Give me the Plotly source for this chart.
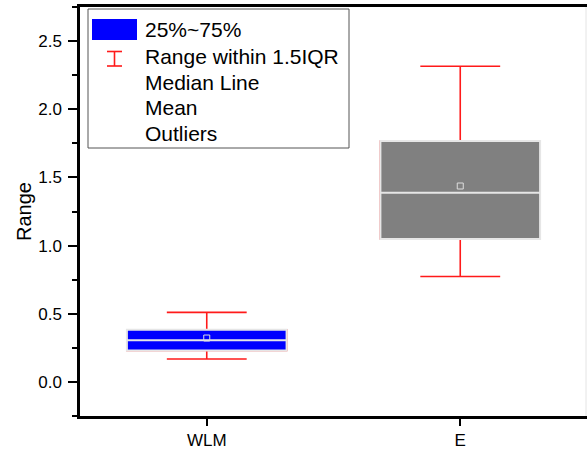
import plotly.graph_objects as go

categories = ["WLM", "E"]
lower_whisker = [0.168, 0.773]
q1_values = [0.231, 1.049]
median_values = [0.305, 1.388]
q3_values = [0.383, 1.767]
upper_whisker = [0.510, 2.315]
mean_values = [0.322, 1.437]
fill_colors = ["#0000FF", "#808080"]
y_tick_values = [0.0, 0.5, 1.0, 1.5, 2.0, 2.5]
legend_labels = ["25%~75%", "Range within 1.5IQR", "Median Line", "Mean", "Outliers"]

FONT = "Liberation Sans, Arial, sans-serif"
BOX_W = 0.63

fig = go.Figure()

for i, cat in enumerate(categories):
    # whiskers (red)
    fig.add_trace(go.Box(
        x=[cat], q1=[q1_values[i]], median=[median_values[i]], q3=[q3_values[i]],
        lowerfence=[lower_whisker[i]], upperfence=[upper_whisker[i]],
        width=BOX_W, whiskerwidth=0.5, fillcolor="rgba(0,0,0,0)",
        line=dict(color="#FF1A1A", width=1.6), boxpoints=False,
        showlegend=False, hoverinfo="skip"))
    # box (filled) with white median
    fig.add_trace(go.Box(
        x=[cat], q1=[q1_values[i]], median=[median_values[i]], q3=[q3_values[i]],
        lowerfence=[q1_values[i]], upperfence=[q3_values[i]],
        width=BOX_W, whiskerwidth=0, fillcolor=fill_colors[i],
        line=dict(color="#E6E6E6", width=2), boxpoints=False,
        showlegend=False, hoverinfo="skip"))

fig.add_trace(go.Scatter(
    x=categories, y=mean_values, mode="markers",
    marker=dict(symbol="square-open", size=6, color="#DDDDDD", line=dict(width=1)),
    showlegend=False, hoverinfo="skip"))

# plot area pixel geometry for manual legend
L, R, T, B = 80, 587, 7, 416
def px(x):
    return (x - L) / (R - L)
def py(y):
    return (B - y) / (B - T)

shapes = [
    dict(type="rect", xref="paper", yref="paper", x0=px(88), x1=px(349), y0=py(148), y1=py(9),
         line=dict(color="#555555", width=1), fillcolor="white", layer="above"),
    dict(type="rect", xref="paper", yref="paper", x0=px(92), x1=px(137), y0=py(40), y1=py(19),
         line=dict(width=0), fillcolor="#0000FF", layer="above"),
    dict(type="line", xref="paper", yref="paper", x0=px(114.5), x1=px(114.5), y0=py(66), y1=py(51.5),
         line=dict(color="#FF1A1A", width=1.6), layer="above"),
    dict(type="line", xref="paper", yref="paper", x0=px(107), x1=px(122), y0=py(51.5), y1=py(51.5),
         line=dict(color="#FF1A1A", width=1.6), layer="above"),
    dict(type="line", xref="paper", yref="paper", x0=px(107), x1=px(122), y0=py(66), y1=py(66),
         line=dict(color="#FF1A1A", width=1.6), layer="above"),
    dict(type="line", xref="paper", yref="paper", x0=px(586), x1=px(586), y0=0, y1=1,
         line=dict(color="#E4E4E4", width=1)),
]

row_y = [30, 56, 82, 107.5, 133]
annotations = []
for lab, yy in zip(legend_labels, row_y):
    annotations.append(dict(
        text=lab, xref="paper", yref="paper", x=px(143), y=py(yy),
        xanchor="left", yanchor="middle", showarrow=False,
        font=dict(family=FONT, size=21, color="black")))

fig.update_layout(
    width=587, height=455,
    margin=dict(l=L, r=587 - R, t=T, b=455 - B),
    plot_bgcolor="white", paper_bgcolor="white",
    boxmode="overlay",
    font=dict(family=FONT, size=17, color="black"),
    shapes=shapes, annotations=annotations,
    showlegend=False,
    xaxis=dict(
        range=[-0.5, 1.5], type="category",
        showline=True, linecolor="black", linewidth=2.5, mirror=True,
        ticks="outside", ticklen=7, tickwidth=2, tickcolor="black",
        showgrid=False, zeroline=False,
        tickfont=dict(family=FONT, size=17)),
    yaxis=dict(
        range=[-0.25, 2.75], tickvals=y_tick_values, tickformat=".1f",
        showline=True, linecolor="black", linewidth=2.5,
        ticks="outside", ticklen=9, tickwidth=2, tickcolor="black",
        ticklabelstandoff=3,
        minor=dict(ticks="outside", ticklen=5, tickwidth=2, tickcolor="black", dtick=0.25, tick0=0),
        showgrid=False, zeroline=False,
        title=dict(text="Range", font=dict(family=FONT, size=20), standoff=2),
        tickfont=dict(family=FONT, size=17)),
)

fig.write_html("out.html", config={"displayModeBar": False},
               post_script="document.body.style.margin='0';document.body.style.overflow='hidden';")
